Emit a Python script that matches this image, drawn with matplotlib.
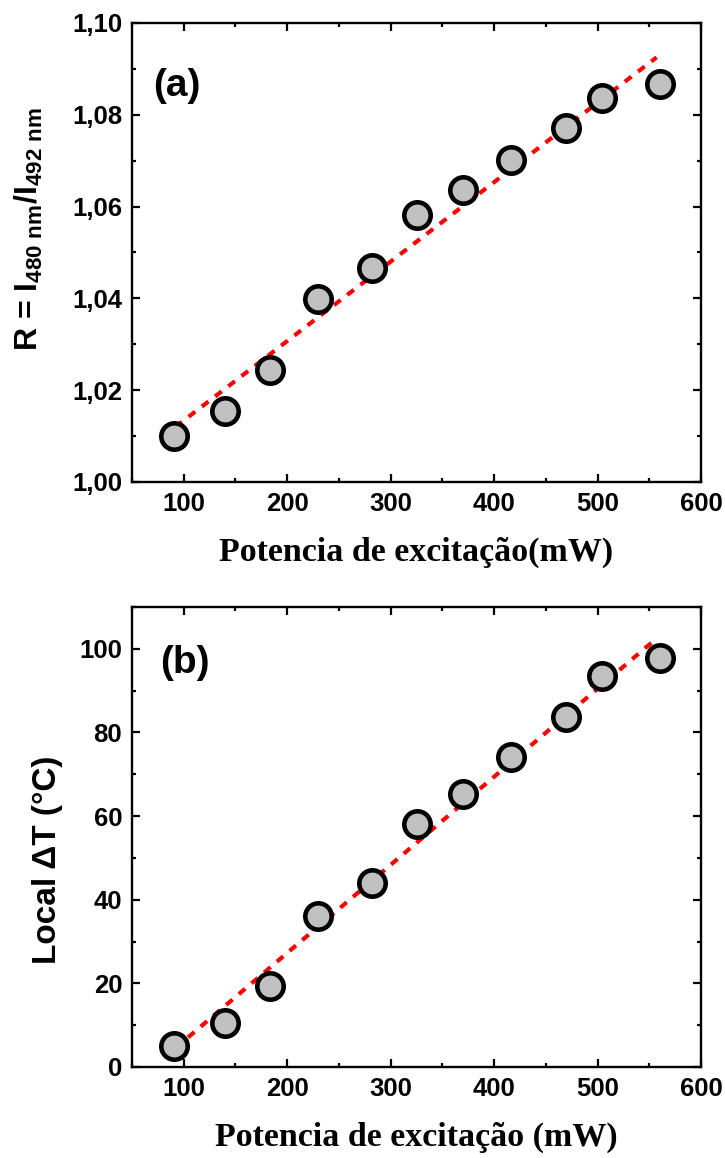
import numpy as np
import matplotlib
matplotlib.use("Agg")
import matplotlib.pyplot as plt
from matplotlib.ticker import MultipleLocator, FuncFormatter

# ------------------------------
# Data
# ------------------------------
power = [91, 140, 183, 230, 282, 325, 370, 416, 469, 504, 560]   # mW
ratio = [1.0100, 1.0155, 1.0244, 1.0398, 1.0466, 1.0581,
         1.0637, 1.0702, 1.0772, 1.0837, 1.0866]
delta_t = [5.1, 10.4, 19.4, 36.2, 44.1, 58.1, 65.3, 74.2, 83.8, 93.5, 97.9]

# linear fit lines (end points)
fit_x = [92, 557]
fit_ratio = [1.0120, 1.0925]
fit_dt = [4.5, 102.5]

plt.rcParams['font.family'] = ['Liberation Sans', 'DejaVu Sans']
plt.rcParams['mathtext.fontset'] = 'custom'
plt.rcParams['mathtext.rm'] = 'Liberation Sans:bold'
plt.rcParams['mathtext.bf'] = 'Liberation Sans:bold'
plt.rcParams['mathtext.it'] = 'Liberation Sans:bold'

fig = plt.figure(figsize=(7.25, 11.58), dpi=100)
ax_a = fig.add_axes([0.182, 0.5838, 0.785, 0.3964])
ax_b = fig.add_axes([0.182, 0.0786, 0.785, 0.3972])

serif = ['Liberation Serif', 'DejaVu Serif']


def style_axis(ax):
    for sp in ax.spines.values():
        sp.set_linewidth(1.7)
    ax.xaxis.set_major_locator(MultipleLocator(100))
    ax.xaxis.set_minor_locator(MultipleLocator(50))
    ax.tick_params(which='both', direction='in', top=True, right=True, width=1.6)
    ax.tick_params(which='major', length=5.5, pad=7, labelsize=18.5)
    ax.tick_params(which='minor', length=3)
    for lab in ax.get_xticklabels() + ax.get_yticklabels():
        lab.set_fontweight('bold')
    ax.set_xlim(50, 600)


def draw(ax, y, fit_y):
    ax.plot(fit_x, fit_y, color='red', lw=3, linestyle=(0, (2, 2)), zorder=2)
    ax.plot(power, y, 'o', ms=19, mfc='#c0c0c0', mec='black', mew=3.3, zorder=3)


# ------------------------------
# Panel (a)
# ------------------------------
draw(ax_a, ratio, fit_ratio)
ax_a.set_ylim(1.00, 1.10)
ax_a.yaxis.set_major_locator(MultipleLocator(0.02))
ax_a.yaxis.set_minor_locator(MultipleLocator(0.01))
ax_a.yaxis.set_major_formatter(FuncFormatter(lambda v, p: f"{v:.2f}".replace('.', ',')))
style_axis(ax_a)
ax_a.set_xlabel('Potencia de excitação(mW)', family=serif, fontweight='bold',
                fontsize=24.5, labelpad=15)
ax_a.set_ylabel(r'R = I$_{\mathbf{480\ nm}}$/I$_{\mathbf{492\ nm}}$',
                fontweight='bold', fontsize=23)
ax_a.yaxis.set_label_coords(-0.152, 0.55)
ax_a.text(0.037, 0.863, '(a)', transform=ax_a.transAxes, fontsize=28,
          fontweight='bold', va='center', ha='left')

# ------------------------------
# Panel (b)
# ------------------------------
draw(ax_b, delta_t, fit_dt)
ax_b.set_ylim(0, 110)
ax_b.yaxis.set_major_locator(MultipleLocator(20))
ax_b.yaxis.set_minor_locator(MultipleLocator(10))
style_axis(ax_b)
ax_b.set_xlabel('Potencia de excitação (mW)', family=serif, fontweight='bold',
                fontsize=24.5, labelpad=15)
ax_b.set_ylabel('Local ΔT (°C)', fontweight='bold', fontsize=24)
ax_b.yaxis.set_label_coords(-0.121, 0.45)
ax_b.text(0.049, 0.879, '(b)', transform=ax_b.transAxes, fontsize=28,
          fontweight='bold', va='center', ha='left')

fig.savefig('out.png', dpi=100)
